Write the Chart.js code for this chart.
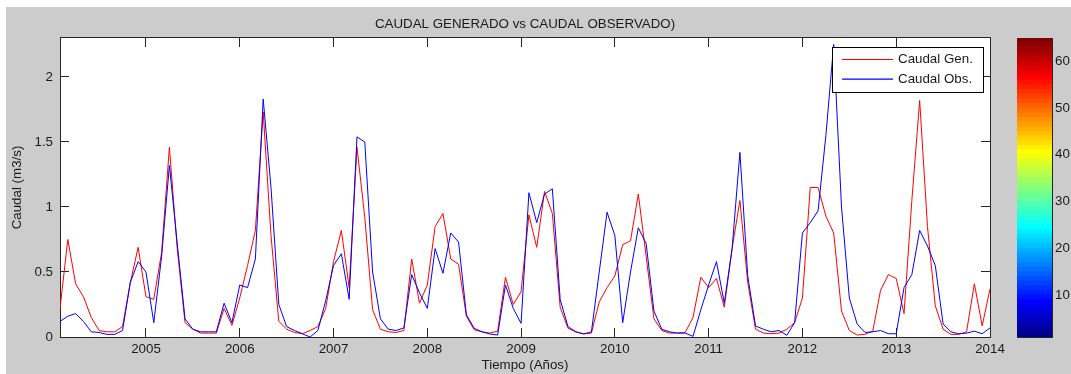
<!DOCTYPE html>
<html>
<head>
<meta charset="utf-8">
<script src="https://cdn.jsdelivr.net/npm/chart.js@4.4.0/dist/chart.umd.min.js"></script>
<style>
  body { margin: 0; background: #fff; }
  #fondo { position: absolute; left: 6px; top: 7px; width: 1065px; height: 367px; background: #cccccc; }
  #grafica { position: absolute; left: 0; top: 0; }
  #barraColor { position: absolute; left: 980px; top: 0; }
</style>
</head>
<body>
<div id="fondo"></div>
<canvas id="grafica" width="1071" height="374"></canvas>
<canvas id="barraColor" width="91" height="374"></canvas>
<script>
// caudales mensuales (m3/s), desde febrero 2004 hasta enero 2014
const caudalGen = [
  0.22, 0.75, 0.41, 0.31, 0.15, 0.05, 0.04, 0.04, 0.08, 0.42, 0.69, 0.31,
  0.29, 0.65, 1.46, 0.68, 0.11, 0.06, 0.03, 0.03, 0.03, 0.22, 0.09, 0.30,
  0.55, 0.82, 1.73, 0.78, 0.12, 0.06, 0.035, 0.025, 0.05, 0.08, 0.22, 0.58,
  0.82, 0.38, 1.46, 0.92, 0.21, 0.06, 0.04, 0.035, 0.05, 0.60, 0.26, 0.40,
  0.85, 0.95, 0.60, 0.56, 0.16, 0.055, 0.04, 0.03, 0.045, 0.46, 0.25, 0.35,
  0.94, 0.69, 1.12, 0.95, 0.23, 0.067, 0.04, 0.025, 0.03, 0.27, 0.38, 0.47,
  0.71, 0.74, 1.10, 0.62, 0.14, 0.05, 0.03, 0.03, 0.035, 0.15, 0.46, 0.38,
  0.45, 0.23, 0.68, 1.05, 0.42, 0.06, 0.03, 0.025, 0.03, 0.06, 0.11, 0.30,
  1.15, 1.15, 0.93, 0.80, 0.20, 0.05, 0.015, 0.02, 0.045, 0.36, 0.48, 0.45,
  0.18, 1.05, 1.82, 0.85, 0.24, 0.06, 0.02, 0.02, 0.04, 0.41, 0.085, 0.37
];
const caudalObs = [
  0.12, 0.16, 0.18, 0.12, 0.04, 0.035, 0.02, 0.02, 0.05, 0.42, 0.58, 0.50,
  0.11, 0.62, 1.32, 0.72, 0.14, 0.06, 0.04, 0.04, 0.04, 0.26, 0.11, 0.40,
  0.38, 0.60, 1.83, 1.15, 0.25, 0.08, 0.05, 0.025, 0.0, 0.05, 0.28, 0.55,
  0.64, 0.29, 1.54, 1.50, 0.50, 0.14, 0.06, 0.05, 0.07, 0.48, 0.34, 0.22,
  0.68, 0.49, 0.80, 0.73, 0.17, 0.067, 0.04, 0.023, 0.015, 0.40, 0.22, 0.105,
  1.11, 0.88, 1.10, 1.14, 0.29, 0.08, 0.04, 0.023, 0.04, 0.50, 0.96, 0.78,
  0.11, 0.50, 0.84, 0.72, 0.20, 0.06, 0.04, 0.03, 0.03, 0.005, 0.21, 0.40,
  0.58, 0.26, 0.68, 1.42, 0.47, 0.085, 0.06, 0.04, 0.05, 0.013, 0.11, 0.80,
  0.88, 0.97, 1.55, 2.25, 1.0, 0.30, 0.10, 0.035, 0.04, 0.05, 0.025, 0.025,
  0.38, 0.48, 0.82, 0.70, 0.55, 0.10, 0.04, 0.025, 0.03, 0.045, 0.025, 0.07
];
const anios = [2005, 2006, 2007, 2008, 2009, 2010, 2011, 2012, 2013, 2014];
const ticksCaudal = [0, 0.5, 1, 1.5, 2];
const ticksColor = [10, 20, 30, 40, 50, 60];
const inicio = 2004 + 1 / 12;

// eje de tiempo en años decimales, un punto por mes
const tiempo = caudalGen.map((_, i) => inicio + i / 12);
const puntos = serie => serie.map((v, i) => ({ x: tiempo[i], y: v }));

const familia = "'Liberation Sans', Arial, Helvetica, sans-serif";
const tamFuente = 13.33;
const colorEje = '#262626';
const rojo = '#ff0000';
const azul = '#0000ff';
Chart.defaults.font.family = familia;
Chart.defaults.font.size = tamFuente;
Chart.defaults.color = '#1a1a1a';

// mapa de colores jet de m niveles
function jet(m) {
  const n = Math.ceil(m / 4);
  const u = [];
  for (let k = 1; k <= n; k++) u.push(k / n);
  for (let k = 1; k < n; k++) u.push(1);
  for (let k = n; k >= 1; k--) u.push(k / n);
  const g0 = Math.ceil(n / 2) - (m % 4 === 1 ? 1 : 0);
  const J = Array.from({ length: m }, () => [0, 0, 0]);
  u.forEach((val, k) => {
    const g = g0 + k + 1;
    const r = g + n, b = g - n;
    if (r >= 1 && r <= m) J[r - 1][0] = val;
    if (g >= 1 && g <= m) J[g - 1][1] = val;
    if (b >= 1 && b <= m) J[b - 1][2] = val;
  });
  return J.map(([r, g, b]) => `rgb(${Math.round(r * 255)},${Math.round(g * 255)},${Math.round(b * 255)})`);
}

// fondo blanco de los ejes
const fondoEjes = {
  id: 'fondoEjes',
  beforeDraw(chart) {
    const { ctx, chartArea: a } = chart;
    ctx.save();
    ctx.fillStyle = '#ffffff';
    ctx.fillRect(a.left, a.top, a.right - a.left, a.bottom - a.top);
    ctx.restore();
  }
};

// leyenda dentro del area de la grafica, esquina superior derecha
const leyendaInterior = {
  id: 'leyendaInterior',
  afterDatasetsDraw(chart) {
    const { ctx, chartArea } = chart;
    const series = chart.data.datasets;
    ctx.save();
    ctx.font = `${tamFuente}px ${familia}`;
    const anchoTexto = Math.max(...series.map(d => ctx.measureText(d.label).width));
    const largoLinea = 51, sep = 5, margen = 10, alto = 45;
    const ancho = Math.round(margen + largoLinea + sep + anchoTexto + margen);
    const x0 = Math.round(chartArea.right - 7 - ancho);
    const y0 = Math.round(chartArea.top + 9);
    ctx.fillStyle = '#ffffff';
    ctx.fillRect(x0, y0, ancho, alto);
    ctx.strokeStyle = '#000000';
    ctx.lineWidth = 1;
    ctx.strokeRect(x0 + 0.5, y0 + 0.5, ancho, alto);
    series.forEach((d, k) => {
      const y = y0 + 12.5 + k * 19.7;
      ctx.beginPath();
      ctx.lineWidth = 1.2;
      ctx.strokeStyle = d.borderColor;
      ctx.moveTo(x0 + margen, y);
      ctx.lineTo(x0 + margen + largoLinea, y);
      ctx.stroke();
      ctx.fillStyle = '#1a1a1a';
      ctx.textBaseline = 'middle';
      ctx.fillText(d.label, x0 + margen + largoLinea + sep, y);
    });
    ctx.restore();
  }
};

const gridInterior = largo => ({ drawOnChartArea: false, tickLength: largo, color: colorEje, lineWidth: 1 });
const borde = { color: colorEje, width: 1 };

new Chart(document.getElementById('grafica'), {
  type: 'line',
  data: {
    datasets: [
      { label: 'Caudal Gen.', data: puntos(caudalGen), borderColor: rojo, borderWidth: 1, pointRadius: 0, tension: 0, fill: false, order: 1 },
      { label: 'Caudal Obs.', data: puntos(caudalObs), borderColor: azul, borderWidth: 1, pointRadius: 0, tension: 0, fill: false, order: 0 }
    ]
  },
  options: {
    responsive: false,
    animation: false,
    events: [],
    layout: { padding: { left: 0, top: 0, right: 81, bottom: 0 } },
    plugins: {
      legend: { display: false },
      tooltip: { enabled: false },
      title: {
        display: true,
        text: 'CAUDAL GENERADO vs CAUDAL OBSERVADO)',
        fullSize: false,
        color: '#1a1a1a',
        font: { size: tamFuente, weight: 'normal' },
        padding: { top: 16, bottom: 6 }
      }
    },
    scales: {
      x: {
        type: 'linear', position: 'bottom',
        min: tiempo[0], max: anios[anios.length - 1],
        afterBuildTicks: s => { s.ticks = anios.map(v => ({ value: v })); },
        ticks: { padding: 13, maxRotation: 0, autoSkip: false, callback: v => String(v) },
        grid: gridInterior(-9),
        border: borde,
        title: { display: true, text: 'Tiempo (Años)', padding: { top: 0, bottom: 1 } },
        afterFit: s => { s.height = 37; }
      },
      xSup: {
        type: 'linear', position: 'top',
        min: tiempo[0], max: anios[anios.length - 1],
        afterBuildTicks: s => { s.ticks = anios.map(v => ({ value: v })); },
        ticks: { display: false },
        grid: gridInterior(-9),
        border: borde,
        afterFit: s => { s.height = 0; }
      },
      y: {
        type: 'linear', position: 'left',
        min: 0, max: 2.3,
        afterBuildTicks: s => { s.ticks = ticksCaudal.map(v => ({ value: v })); },
        ticks: { padding: 16, callback: v => String(v) },
        grid: gridInterior(-9),
        border: borde,
        title: { display: true, text: 'Caudal (m3/s)', padding: { top: 9, bottom: 0 } },
        afterFit: s => { s.width = 60; }
      },
      yDer: {
        type: 'linear', position: 'right',
        min: 0, max: 2.3,
        afterBuildTicks: s => { s.ticks = ticksCaudal.map(v => ({ value: v })); },
        ticks: { display: false },
        grid: gridInterior(-9),
        border: borde,
        afterFit: s => { s.width = 0; }
      }
    }
  },
  plugins: [fondoEjes, leyendaInterior]
});

// barra de colores: un tramo por nivel del mapa jet
const coloresJet = jet(64);
new Chart(document.getElementById('barraColor'), {
  type: 'bar',
  data: {
    labels: [''],
    datasets: coloresJet.map((c, k) => ({
      data: [[k + 1, k + 2]],
      backgroundColor: c,
      borderWidth: 0,
      barPercentage: 1,
      categoryPercentage: 1,
      grouped: false
    }))
  },
  options: {
    responsive: false,
    animation: false,
    events: [],
    layout: { padding: { left: 37, top: 38, right: 0, bottom: 37 } },
    plugins: { legend: { display: false }, tooltip: { enabled: false } },
    scales: {
      x: {
        position: 'bottom',
        ticks: { display: false },
        grid: { display: false },
        border: borde,
        afterFit: s => { s.height = 0; }
      },
      xSup: {
        type: 'category', position: 'top',
        ticks: { display: false },
        grid: { display: false },
        border: borde,
        afterFit: s => { s.height = 0; }
      },
      y: {
        position: 'right',
        min: 1, max: 65,
        afterBuildTicks: s => { s.ticks = ticksColor.map(v => ({ value: v })); },
        ticks: { padding: 6, callback: v => String(v) },
        grid: gridInterior(-3),
        border: borde,
        afterFit: s => { s.width = 19; }
      },
      yIzq: {
        position: 'left',
        min: 1, max: 65,
        afterBuildTicks: s => { s.ticks = ticksColor.map(v => ({ value: v })); },
        ticks: { display: false },
        grid: gridInterior(-3),
        border: borde,
        afterFit: s => { s.width = 0; }
      }
    }
  }
});
</script>
</body>
</html>
